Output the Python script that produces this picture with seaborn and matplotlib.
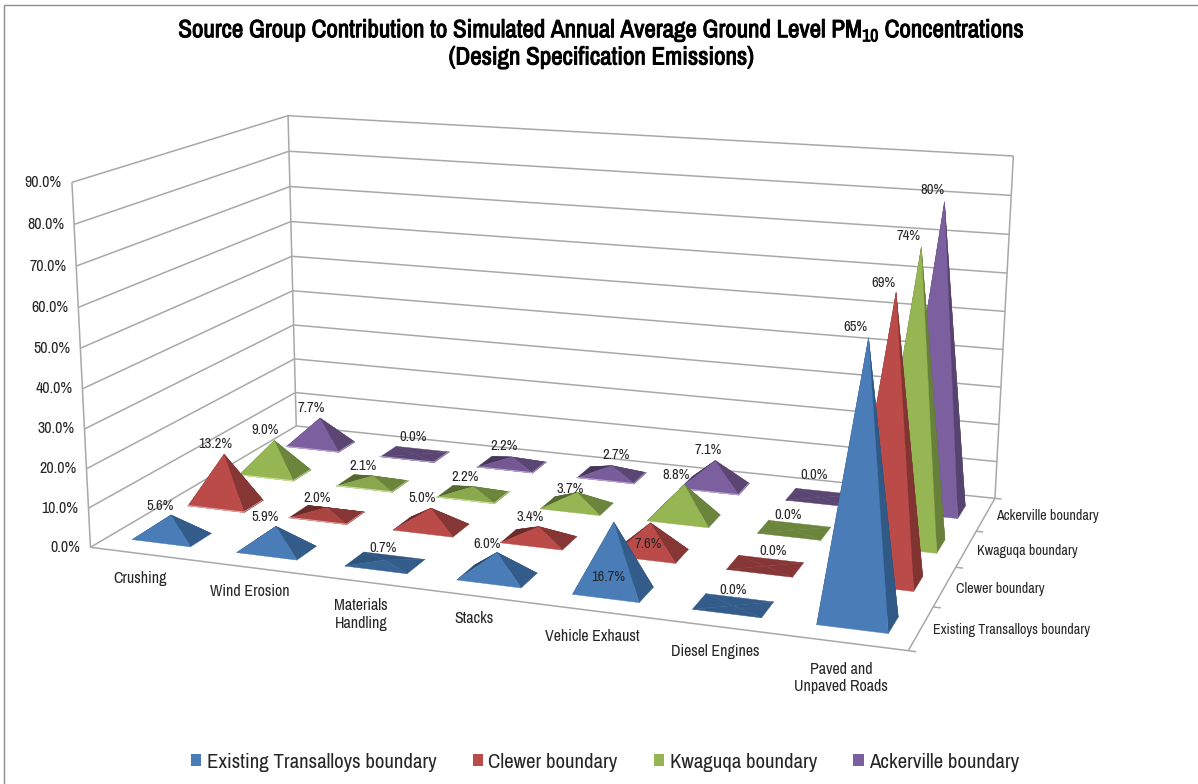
import numpy as np
import matplotlib
matplotlib.use("Agg")
import matplotlib.pyplot as plt
import matplotlib.patheffects as pe
import seaborn as sns
from matplotlib.lines import Line2D
from matplotlib.patches import Patch
from mpl_toolkits.mplot3d.art3d import Line3DCollection, Poly3DCollection

# ---- chart values -------------------------------------------------------
categories = ["Crushing", "Wind Erosion", "Materials\nHandling", "Stacks",
              "Vehicle Exhaust", "Diesel Engines", "Paved and\nUnpaved Roads"]
series_names = ["Existing Transalloys boundary", "Clewer boundary",
                "Kwaguqa boundary", "Ackerville boundary"]
transalloys = [5.6, 5.9, 0.7, 6.0, 16.7, 0.0, 65]
clewer = [13.2, 2.0, 5.0, 3.4, 7.6, 0.0, 69]
kwaguqa = [9.0, 2.1, 2.2, 3.7, 8.8, 0.0, 74]
ackerville = [7.7, 0.0, 2.2, 2.7, 7.1, 0.0, 80]
value_ticks = [0, 10, 20, 30, 40, 50, 60, 70, 80, 90]

# Pixel shift of each value label from its pyramid's tip (right, down).
label_shift = [
    [(-10, -8), (-10, -9), (-1, -11), (-10, -8), (-5, 55), (0, -15), (-13, -10)],
    [(-8, -10), (-9, -9), (-8, -10), (-8, -9), (-2, 22), (8, -15), (-12, -9)],
    [(-9, -10), (-9, -9), (-8, -9), (-6, -3), (-8, -9), (-6, -15), (-12, -11)],
    [(-8, -10), (-1, -17), (-7, -10), (5, -10), (-7, -10), (-6, -22), (-12, -11)],
]
# Pixel shift of each category label from its spot below the floor edge.
category_shift = [(31, 4), (31, 3), (30, 11), (26, 0), (23, 2), (20, 1), (15, 10)]

W, H = 1198, 784
sns.set_theme(style="white")
plt.rcParams["font.family"] = ["Archivo Narrow", "Liberation Sans", "DejaVu Sans"]

front_cols = sns.color_palette(["#4A7DB8", "#BA4B48", "#95B653", "#7C5F9F"])
side_cols = sns.color_palette(["#335C8B", "#863634", "#6C853C", "#5A4573"])
edge_cols = sns.color_palette(["#9DC3E6", "#E6A9A7", "#CFE3A0", "#BFAAD6"])
GRID = "#A8A8A8"
INK = "#262626"

fig = plt.figure(figsize=(W / 100, H / 100), dpi=100, facecolor="white")
ax = fig.add_axes([0, 0, 1, 1], projection="3d", computed_zorder=False)
ax.set_axis_off()
ax.patch.set_alpha(0)
ax.apply_aspect = lambda position=None: None

# Camera fitted to the corners of the plot box: (category, series, value) -> pixel.
box = np.array([[0, 0, 0], [0, 0, 90], [0, 4, 0], [0, 4, 90],
                [7, 0, 0], [7, 4, 0], [7, 4, 90]], float)
pix = np.array([[90.7, 547.3], [71.7, 182.3], [296, 426], [288.3, 115.7],
                [908.3, 650.7], [995, 498.3], [1013.3, 156]])
rows, rhs = [], []
for (x, y, z), (u, v) in zip(box, pix):
    rows.append([x, y, z, 1, 0, 0, 0, 0, -u * x, -u * y, -u * z])
    rows.append([0, 0, 0, 0, x, y, z, 1, -v * x, -v * y, -v * z])
    rhs += [u, v]
p = np.linalg.lstsq(np.array(rows), np.array(rhs), rcond=None)[0]
camera = np.append(p, 1).reshape(3, 4)
x0, y0, x1, y1 = ax.viewLim.extents
to_view = np.array([[(x1 - x0) / W, 0, x0],
                    [0, -(y1 - y0) / H, y1],
                    [0, 0, 1]])
cam = to_view @ camera
depth = np.linalg.svd(cam)[2][-1]
proj = np.vstack([cam[0], cam[1], depth, cam[2]])
ax.get_proj = lambda: proj


def pixel(x, y, z):
    u, v, w = camera @ np.array([x, y, z, 1.0])
    return u / w, v / w


def label(x, y, z, s, shift=(0, 0), **kw):
    px, py = pixel(x, y, z)
    return fig.text((px + shift[0]) / W, 1 - (py + shift[1]) / H, s, color=INK, **kw)


def mix(a, b, t):
    return tuple(np.array(a) * (1 - t) + np.array(b) * t)


# ---- walls and floor edges ----------------------------------------------
frame_segments = [[(0.0, 0.0, 0.0), (0.0, 0.0, 90.0)],
                  [(0.0, 4.0, 0.0), (0.0, 4.0, 90.0)],
                  [(7.0, 4.0, 0.0), (7.0, 4.0, 90.0)],
                  [(0.0, 0.0, 0.0), (7.0, 0.0, 0.0)],
                  [(7.0, 0.0, 0.0), (7.0, 4.0, 0.0)]]
for t in value_ticks:
    frame_segments.append([(0.0, 0.0, float(t)), (0.0, 4.0, float(t))])
    frame_segments.append([(0.0, 4.0, float(t)), (7.0, 4.0, float(t))])
    label(0, 0, t, f"{t:.1f}%", (-10, 0), ha="right", va="center", fontsize=11.5)
for j in range(5):
    frame_segments.append([(7.0, float(j), 0.0), (7.06, float(j), 0.0)])
ax.add_collection3d(Line3DCollection(frame_segments, colors=GRID, linewidths=1.1, zorder=9))

# ---- pyramids, drawn back to front --------------------------------------
HW, HD = 0.28, 0.19
all_series = [transalloys, clewer, kwaguqa, ackerville]


def face(pts, col, z):
    ax.add_collection3d(Poly3DCollection([pts], facecolors=[col], edgecolors=[col],
                                         linewidths=0.3, zorder=z))


for j in reversed(range(4)):
    vals = all_series[j]
    light, dark = front_cols[j], side_cols[j]
    deep = mix(dark, (0, 0, 0), 0.22)
    for i, val in enumerate(vals):
        cx, cy = i + 0.5, j + 0.5
        fl = (cx - HW, cy - HD, 0)
        fr = (cx + HW, cy - HD, 0)
        br = (cx + HW, cy + HD, 0)
        bl = (cx - HW, cy + HD, 0)
        top = (cx, cy, val)
        order = 10 + (3 - j) * 100 + i * 10
        t = min(1.0, val / 3.0)
        hidden = mix(dark, deep, min(1.0, val / 2.0))
        face([bl, br, top], hidden, order)
        face([fl, bl, top], hidden, order + 1)
        face([fr, br, top], mix(dark, deep, 0.15 if val > 30 else 0), order + 2)
        face([fl, fr, top], mix(dark, light, t), order + 3)
        ax.plot([fl[0], fr[0]], [fl[1], fr[1]], [0, 0], color=edge_cols[j], lw=0.7, zorder=order + 4)
        ax.plot([fr[0], br[0]], [fr[1], br[1]], [0, 0], color=edge_cols[j], lw=0.5, zorder=order + 4)
        text = f"{val:.0f}%" if val >= 30 else f"{val:.1f}%"
        label(cx, cy, val, text, label_shift[j][i], ha="center", va="center", fontsize=10.5)

# ---- axis labels --------------------------------------------------------
for i, name in enumerate(categories):
    label(i + 0.5, -0.55, 0, name, category_shift[i], ha="center", va="center",
          fontsize=11.5, linespacing=1.2)
for j, name in enumerate(series_names):
    label(7.14, j + 0.5, 0, name, (-6, 0), ha="left", va="center", fontsize=10.2)

# ---- title, legend, frame -----------------------------------------------
heavy = [pe.withStroke(linewidth=0.7, foreground="black")]
title_lines = [r"Source Group Contribution to Simulated Annual Average Ground Level PM$_{\mathdefault{10}}$ Concentrations",
               "(Design Specification Emissions)"]
for s, y in zip(title_lines, (30, 57)):
    fig.text(601.5 / W, 1 - y / H, s, ha="center", va="center", fontsize=18,
             color="black", path_effects=heavy)
handles = [Patch(facecolor=c, edgecolor="none") for c in front_cols]
fig.legend(handles, series_names, loc="center", bbox_to_anchor=(605 / W, 1 - 762 / H),
           ncol=4, frameon=False, fontsize=15, handlelength=0.5, handleheight=0.5,
           handletextpad=0.25, columnspacing=1.75, borderpad=0, labelcolor=INK)
fig.add_artist(Line2D([3.5 / W, 3.5 / W, 1], [0, 1 - 4.7 / H, 1 - 4.7 / H],
                      color="#8C8C8C", lw=1.0, solid_joinstyle="miter"))

fig.savefig("out.png", dpi=100, facecolor="white")
